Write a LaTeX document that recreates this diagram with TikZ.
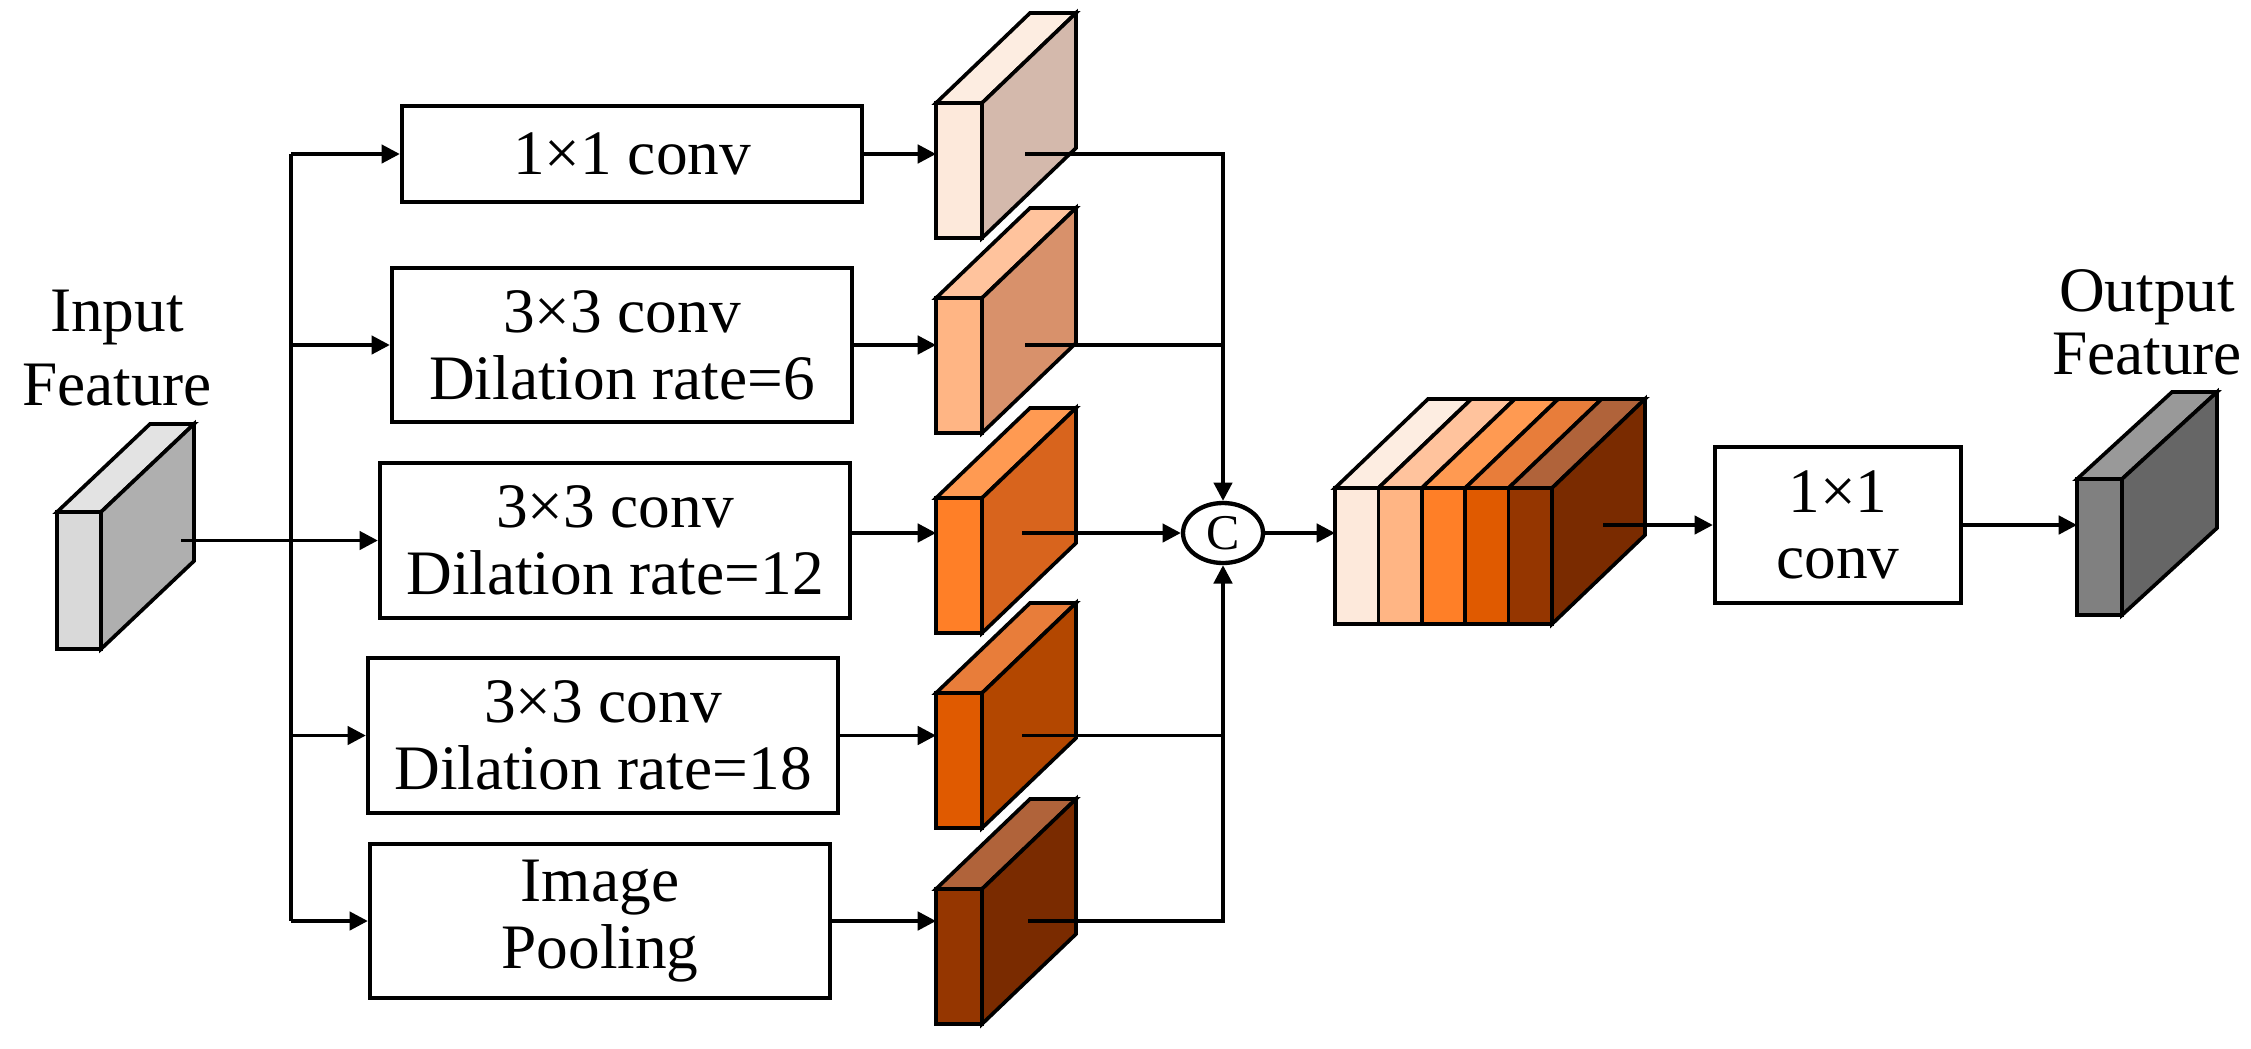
\documentclass[tikz,border=0pt]{standalone}
\usepackage{fontspec}
\setmainfont{Liberation Serif}
\usetikzlibrary{arrows.meta,shapes.geometric}

\definecolor{inF}{HTML}{D9D9D9}
\definecolor{inT}{HTML}{E3E3E3}
\definecolor{inS}{HTML}{AFAFAF}
\definecolor{c1F}{HTML}{FDE9DB}
\definecolor{c1T}{HTML}{FDEDE1}
\definecolor{c1S}{HTML}{D4B9AC}
\definecolor{c2F}{HTML}{FFB584}
\definecolor{c2T}{HTML}{FFC39D}
\definecolor{c2S}{HTML}{D8916B}
\definecolor{c3F}{HTML}{FF7F27}
\definecolor{c3T}{HTML}{FF9A52}
\definecolor{c3S}{HTML}{D8641D}
\definecolor{c4F}{HTML}{E05A00}
\definecolor{c4T}{HTML}{E87D3A}
\definecolor{c4S}{HTML}{B34700}
\definecolor{c5F}{HTML}{953600}
\definecolor{c5T}{HTML}{B0633A}
\definecolor{c5S}{HTML}{7A2B00}
\definecolor{outF}{HTML}{808080}
\definecolor{outT}{HTML}{999999}
\definecolor{outS}{HTML}{666666}

\begin{document}
\begin{tikzpicture}[x=0.3pt,y=-0.3pt,
  box/.style={draw,line width=1.3pt,align=center,inner sep=0pt,minimum width=138pt,minimum height=46.2pt,font=\fontsize{19pt}{20pt}\selectfont},
  face/.style={draw,line width=1.1pt,inner sep=0pt,outer sep=0pt,minimum width=13.8pt,minimum height=40.5pt},
  edge/.style={line width=1.1pt},
  arr/.style={-{Triangle[length=5.5pt,width=5.5pt]},line width=1.1pt},
  lbl/.style={align=center,inner sep=0pt,font=\fontsize{19pt}{22pt}\selectfont}]
  \useasboundingbox (0,0) rectangle (2251,1048);

  % input feature
  \node (inlbl) at (117,348) [lbl] {Input\\Feature};
  \node (in) at (79,580.5) [face,minimum width=13.2pt,minimum height=41.1pt,fill=inF] {};
  \draw[edge,fill=inT] (in.north west) -- ++(93,-88) -- ++(44,0) -- (in.north east) -- cycle;
  \draw[edge,fill=inS] (in.north east) -- ++(93,-88) -- ++(0,137) -- (in.south east) -- cycle;

  % branches
  \node (b1) at (632,154) [box,minimum height=28.8pt] {1×1 conv};
  \node (b2) at (622,345) [box] {3×3 conv\\Dilation rate=6};
  \node (b3) at (615,540.5) [box,minimum width=141pt,minimum height=46.5pt] {3×3 conv\\Dilation rate=12};
  \node (b4) at (603,735.5) [box,minimum width=141pt,minimum height=46.5pt] {3×3 conv\\Dilation rate=18};
  \node (b5) at (600,921) [box] {Image\\Pooling};

  % branch feature maps
  \node (f1) at (959,170.5) [face,fill=c1F] {};
  \draw[edge,fill=c1T] (f1.north west) -- ++(94,-90) -- ++(46,0) -- (f1.north east) -- cycle;
  \draw[edge,fill=c1S] (f1.north east) -- ++(94,-90) -- ++(0,135) -- (f1.south east) -- cycle;
  \node (f2) at (959,365.5) [face,fill=c2F] {};
  \draw[edge,fill=c2T] (f2.north west) -- ++(94,-90) -- ++(46,0) -- (f2.north east) -- cycle;
  \draw[edge,fill=c2S] (f2.north east) -- ++(94,-90) -- ++(0,135) -- (f2.south east) -- cycle;
  \node (f3) at (959,565.5) [face,fill=c3F] {};
  \draw[edge,fill=c3T] (f3.north west) -- ++(94,-90) -- ++(46,0) -- (f3.north east) -- cycle;
  \draw[edge,fill=c3S] (f3.north east) -- ++(94,-90) -- ++(0,135) -- (f3.south east) -- cycle;
  \node (f4) at (959,760.5) [face,fill=c4F] {};
  \draw[edge,fill=c4T] (f4.north west) -- ++(94,-90) -- ++(46,0) -- (f4.north east) -- cycle;
  \draw[edge,fill=c4S] (f4.north east) -- ++(94,-90) -- ++(0,135) -- (f4.south east) -- cycle;
  \node (f5) at (959,956.5) [face,fill=c5F] {};
  \draw[edge,fill=c5T] (f5.north west) -- ++(94,-90) -- ++(46,0) -- (f5.north east) -- cycle;
  \draw[edge,fill=c5S] (f5.north east) -- ++(94,-90) -- ++(0,135) -- (f5.south east) -- cycle;

  % concat
  \node (C) at (1223,533) [ellipse,draw,line width=1.3pt,inner sep=0pt,minimum width=24pt,minimum height=18pt,font=\fontsize{15pt}{15pt}\selectfont] {C};

  % concatenated feature
  \node (s1) at (1356.7,556) [face,minimum width=13.02pt,minimum height=40.8pt,fill=c1F] {};
  \node (s2) at (1400.1,556) [face,minimum width=13.02pt,minimum height=40.8pt,fill=c2F] {};
  \node (s3) at (1443.5,556) [face,minimum width=13.02pt,minimum height=40.8pt,fill=c3F] {};
  \node (s4) at (1486.9,556) [face,minimum width=13.02pt,minimum height=40.8pt,fill=c4F] {};
  \node (s5) at (1530.3,556) [face,minimum width=13.02pt,minimum height=40.8pt,fill=c5F] {};
  \draw[edge,fill=c1T] (s1.north west) -- ++(93,-89) -- ++(43.4,0) -- (s1.north east) -- cycle;
  \draw[edge,fill=c2T] (s2.north west) -- ++(93,-89) -- ++(43.4,0) -- (s2.north east) -- cycle;
  \draw[edge,fill=c3T] (s3.north west) -- ++(93,-89) -- ++(43.4,0) -- (s3.north east) -- cycle;
  \draw[edge,fill=c4T] (s4.north west) -- ++(93,-89) -- ++(43.4,0) -- (s4.north east) -- cycle;
  \draw[edge,fill=c5T] (s5.north west) -- ++(93,-89) -- ++(43.4,0) -- (s5.north east) -- cycle;
  \draw[edge,fill=c5S] (s5.north east) -- ++(93,-89) -- ++(0,136) -- (s5.south east) -- cycle;

  % output
  \node (b6) at (1838,525) [box,minimum width=73.8pt,minimum height=46.8pt] {1×1\\conv};
  \node (outlbl) at (2147,322) [lbl,font=\fontsize{19pt}{18.9pt}\selectfont] {Output\\Feature};
  \node (out) at (2099.5,547) [face,minimum width=13.5pt,minimum height=40.8pt,fill=outF] {};
  \draw[edge,fill=outT] (out.north west) -- ++(95,-87) -- ++(45,0) -- (out.north east) -- cycle;
  \draw[edge,fill=outS] (out.north east) -- ++(95,-87) -- ++(0,136) -- (out.south east) -- cycle;

  % connectors
  \coordinate (i0) at (181,540.5);
  \coordinate (split) at (291,540.5);
  \draw[arr] (i0) -- (b3.west);
  \draw[edge] (split |- b1.west) -- (split |- b5.west);
  \draw[arr] (split |- b1.west) -- (b1.west);
  \draw[arr] (split |- b2.west) -- (b2.west);
  \draw[arr] (split |- b4.west) -- (b4.west);
  \draw[arr] (split |- b5.west) -- (b5.west);

  \draw[arr] (b1.east) -- (b1.east -| f1.west);
  \draw[arr] (b2.east) -- (b2.east -| f2.west);
  \draw[arr] (b3.east |- C) -- (f3.west |- C);
  \draw[arr] (b4.east) -- (b4.east -| f4.west);
  \draw[arr] (b5.east) -- (b5.east -| f5.west);

  \coordinate (o1) at (1025,154);
  \coordinate (o2) at (1025,345);
  \coordinate (o3) at (1022,533);
  \coordinate (o4) at (1022,735.5);
  \coordinate (o5) at (1028,921);
  \draw[arr] (o1) -| (C.north);
  \draw[edge] (o2) -- (o2 -| C);
  \draw[arr] (o3) -- (C.west);
  \draw[edge] (o4) -- (o4 -| C);
  \draw[arr] (o5) -| (C.south);

  \draw[arr] (C.east) -- (C.east -| s1.west);
  \coordinate (o6) at (1603,525);
  \draw[arr] (o6) -- (b6.west);
  \draw[arr] (b6.east) -- (b6.east -| out.west);
\end{tikzpicture}
\end{document}
